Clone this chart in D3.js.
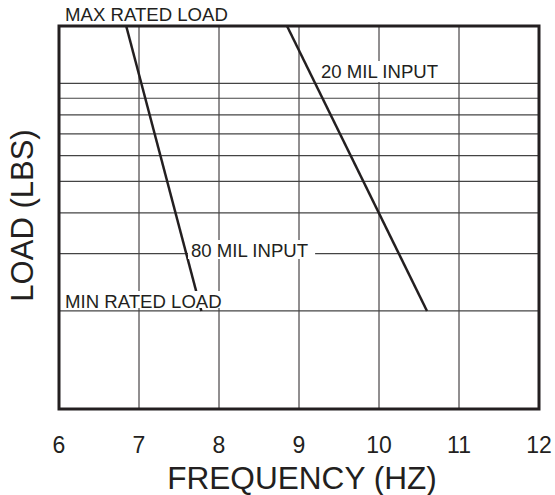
<!DOCTYPE html>
<html>
<head>
<meta charset="utf-8">
<script src="https://cdn.jsdelivr.net/npm/d3@7"></script>
<style>
  body { margin: 0; background: #fff; }
  text { font-family: "Liberation Sans", Arial, Helvetica, sans-serif; fill: #231f20; }
</style>
</head>
<body>
<div id="chart"></div>
<script>
// frequency ticks (Hz)
const freqTicks = [6, 7, 8, 9, 10, 11, 12];
// load grid lines (lbs, log scale)
const loadGrid = [200, 300, 400, 500, 600, 700, 800, 900, 1000];
const loadDomain = [100, 1500];

// curves: frequency vs load
const freq20 = [8.85, 10.6];
const load20 = [1500, 200];
const freq80 = [6.84, 7.78];
const load80 = [1500, 200];

const margin = { top: 26, right: 16, bottom: 86, left: 59 };
const width = 555 - margin.left - margin.right;
const height = 495 - margin.top - margin.bottom;
const ink = "#231f20";

const svg = d3.select("#chart")
    .append("svg")
    .attr("width", 555)
    .attr("height", 495)
    .append("g")
    .attr("transform", `translate(${margin.left},${margin.top})`);

const x = d3.scaleLinear().domain([6, 12]).range([0, width]);
const y = d3.scaleLog().domain(loadDomain).range([height, 0]);

// grid
svg.selectAll(".vgrid")
    .data(freqTicks.slice(1, -1))
    .enter()
    .append("line")
    .attr("x1", d => x(d)).attr("x2", d => x(d))
    .attr("y1", 0).attr("y2", height)
    .attr("stroke", ink)
    .attr("stroke-width", 1);

svg.selectAll(".hgrid")
    .data(loadGrid)
    .enter()
    .append("line")
    .attr("x1", 0).attr("x2", width)
    .attr("y1", d => y(d)).attr("y2", d => y(d))
    .attr("stroke", "#444")
    .attr("stroke-width", 1.2);

// curves
const line = d3.line().x(d => x(d[0])).y(d => y(d[1]));
[[freq20, load20], [freq80, load80]].forEach(([f, l]) => {
    svg.append("path")
        .datum(f.map((v, i) => [v, l[i]]))
        .attr("d", line)
        .attr("fill", "none")
        .attr("stroke", ink)
        .attr("stroke-width", 2.5);
});

// labels with white boxes
function boxLabel(txt, px, py, pad) {
    const t = svg.append("text")
        .attr("x", px).attr("y", py)
        .attr("font-size", 18.6)
        .text(txt);
    const bb = t.node().getBBox();
    svg.insert("rect", () => t.node())
        .attr("x", bb.x - pad[0]).attr("y", bb.y - pad[1])
        .attr("width", bb.width + pad[0] + pad[2])
        .attr("height", bb.height + pad[1] + pad[3])
        .attr("fill", "#fff");
}
boxLabel("20 MIL INPUT", 321 - margin.left, 78 - margin.top, [2, 0, 2, 0]);
boxLabel("80 MIL INPUT", 191 - margin.left, 257 - margin.top, [3, 0, 7, -2]);
boxLabel("MIN RATED LOAD", 65 - margin.left, 308 - margin.top, [3, 0, 3, -4]);

svg.append("text")
    .attr("x", 65 - margin.left)
    .attr("y", -5)
    .attr("font-size", 18.6)
    .text("MAX RATED LOAD");

// frame
svg.append("rect")
    .attr("x", 0).attr("y", 0)
    .attr("width", width).attr("height", height)
    .attr("fill", "none")
    .attr("stroke", ink)
    .attr("stroke-width", 3);

// x tick labels
svg.selectAll(".xlab")
    .data(freqTicks)
    .enter()
    .append("text")
    .attr("x", d => x(d))
    .attr("y", height + 44)
    .attr("text-anchor", "middle")
    .attr("font-size", 23)
    .text(d => d);

svg.append("text")
    .attr("x", width / 2 + 3)
    .attr("y", height + 80)
    .attr("text-anchor", "middle")
    .attr("font-size", 31.6)
    .text("FREQUENCY (HZ)");

svg.append("text")
    .attr("transform", "rotate(-90)")
    .attr("x", -(height / 2) + 2)
    .attr("y", -26)
    .attr("text-anchor", "middle")
    .attr("font-size", 31)
    .text("LOAD (LBS)");
</script>
</body>
</html>
